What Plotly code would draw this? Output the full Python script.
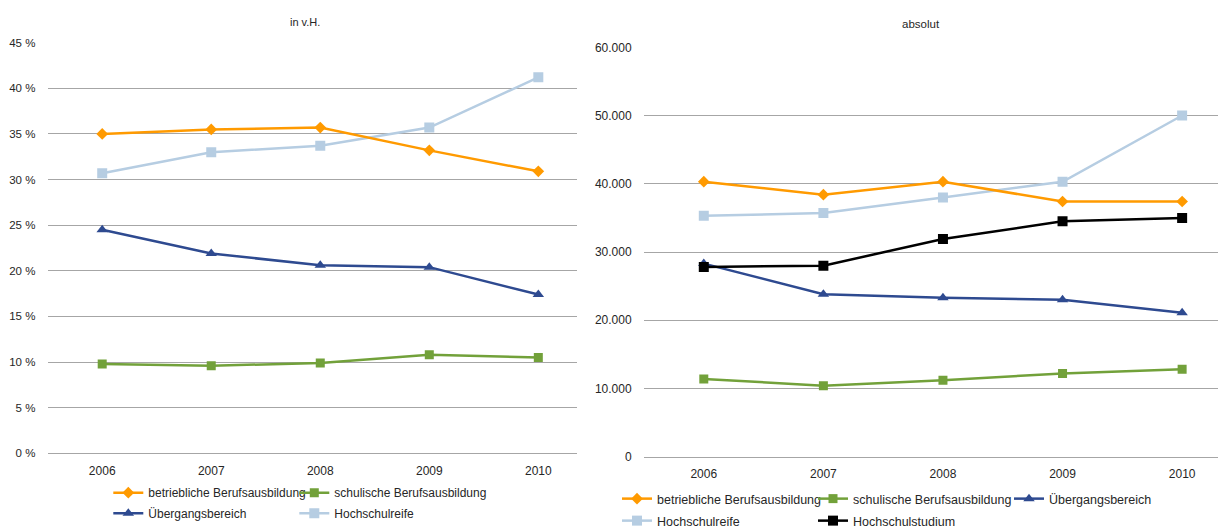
import plotly.graph_objects as go

years = ["2006", "2007", "2008", "2009", "2010"]

# left chart: shares in percent (in v.H.)
pct_betrieblich = [35.0, 35.5, 35.7, 33.2, 30.9]
pct_schulisch = [9.8, 9.6, 9.9, 10.8, 10.5]
pct_uebergang = [24.5, 21.9, 20.6, 20.4, 17.4]
pct_hochschulreife = [30.7, 33.0, 33.7, 35.7, 41.2]

# right chart: absolute numbers
abs_betrieblich = [40300, 38400, 40300, 37400, 37400]
abs_schulisch = [11400, 10400, 11200, 12200, 12800]
abs_uebergang = [28300, 23800, 23300, 23000, 21100]
abs_hochschulreife = [35300, 35700, 38000, 40300, 50000]
abs_hochschulstudium = [27800, 28000, 31900, 34500, 35000]

names = ["betriebliche Berufsausbildung", "schulische Berufsausbildung",
         "Übergangsbereich", "Hochschulreife", "Hochschulstudium"]
colors = ["#FF9A00", "#72A13A", "#2E4A90", "#B6CDE2", "#000000"]
symbols = ["diamond", "square", "triangle-up", "square", "square"]
msizes = [9, 9, 10, 10, 10]

W, H = 1218, 529
fig = go.Figure()

left_data = [pct_betrieblich, pct_schulisch, pct_uebergang, pct_hochschulreife]
left_legends = ["legend", "legend", "legend2", "legend2"]
right_data = [abs_betrieblich, abs_schulisch, abs_uebergang, abs_hochschulreife, abs_hochschulstudium]
right_legends = ["legend3", "legend3", "legend3", "legend4", "legend4"]

# draw order: light blue below others
order_left = [3, 0, 1, 2]
for i in order_left:
    fig.add_trace(go.Scatter(
        x=years, y=left_data[i], name=names[i], mode="lines+markers",
        line=dict(color=colors[i], width=2.5),
        marker=dict(symbol=symbols[i], size=msizes[i], color=colors[i]),
        legend=left_legends[i], legendrank=i + 1,
        legendwidth=(None if i % 2 == 0 else 170),
        xaxis="x", yaxis="y"))

order_right = [3, 0, 1, 2, 4]
for i in order_right:
    fig.add_trace(go.Scatter(
        x=years, y=right_data[i], name=names[i], mode="lines+markers",
        line=dict(color=colors[i], width=2.5),
        marker=dict(symbol=symbols[i], size=msizes[i], color=colors[i]),
        legend=right_legends[i], legendrank=i + 1,
        legendwidth=(120 if i in (2, 4) else None),
        xaxis="x2", yaxis="y2"))

font_col = "#262626"
grid_col = "#A6A6A6"

def xax(domain, rng, anchor):
    return dict(domain=domain, anchor=anchor, type="category", range=rng, showgrid=False,
                showline=True, linecolor=grid_col, linewidth=1,
                ticks="outside", ticklen=6, tickcolor="rgba(0,0,0,0)",
                tickfont=dict(size=12, color=font_col), zeroline=False,
                fixedrange=True)

fig.update_layout(
    width=W, height=H,
    margin=dict(l=0, r=0, t=0, b=0, autoexpand=False),
    paper_bgcolor="white", plot_bgcolor="white",
    font=dict(family="Liberation Sans, Arial, sans-serif", color=font_col, size=12),
    separators=",.",
    xaxis=xax([47.7 / W, 576.7 / W], [-0.5, 4.352], "y"),
    yaxis=dict(domain=[1 - 453.3 / H, 1 - 42.7 / H], anchor="x", range=[0, 45], dtick=5,
               ticksuffix=" %", showgrid=True, gridcolor=grid_col, gridwidth=1,
               zeroline=False, ticks="outside", ticklen=9, tickcolor="rgba(0,0,0,0)",
               tickfont=dict(size=11.5, color=font_col), fixedrange=True),
    xaxis2=xax([644 / W, 1.0], [-0.5, 4.30], "y2"),
    yaxis2=dict(domain=[1 - 456.7 / H, 1 - 47.3 / H], anchor="x2", range=[0, 60000], dtick=10000,
                tickformat=",d", showgrid=True, gridcolor=grid_col, gridwidth=1,
                zeroline=False, ticks="outside", ticklen=9, tickcolor="rgba(0,0,0,0)",
                tickfont=dict(size=12, color=font_col), fixedrange=True),
    legend=dict(orientation="h", x=108.3 / W, xanchor="left", y=1 - 492.7 / H, yanchor="middle",
                entrywidth=141, entrywidthmode="pixels", font=dict(size=12, color=font_col),
                bgcolor="rgba(0,0,0,0)", traceorder="normal", itemclick=False),
    legend2=dict(orientation="h", x=108.3 / W, xanchor="left", y=1 - 513.3 / H, yanchor="middle",
                 entrywidth=141, entrywidthmode="pixels", font=dict(size=12, color=font_col),
                 bgcolor="rgba(0,0,0,0)", traceorder="normal", itemclick=False),
    legend3=dict(orientation="h", x=617 / W, xanchor="left", y=1 - 499 / H, yanchor="middle",
                 entrywidth=151, entrywidthmode="pixels", font=dict(size=12.5, color=font_col),
                 bgcolor="rgba(0,0,0,0)", traceorder="normal", itemclick=False),
    legend4=dict(orientation="h", x=617 / W, xanchor="left", y=1 - 521 / H, yanchor="middle",
                 entrywidth=151, entrywidthmode="pixels", font=dict(size=12.5, color=font_col),
                 bgcolor="rgba(0,0,0,0)", traceorder="normal", itemclick=False),
    annotations=[
        dict(text="in v.H.", x=304.6 / W, y=1 - 21.7 / H, xref="paper", yref="paper",
             showarrow=False, xanchor="center", yanchor="middle", font=dict(size=11, color=font_col)),
        dict(text="absolut", x=921 / W, y=1 - 24 / H, xref="paper", yref="paper",
             showarrow=False, xanchor="center", yanchor="middle", font=dict(size=11.5, color=font_col)),
    ],
)

fig.write_html("out.html")
